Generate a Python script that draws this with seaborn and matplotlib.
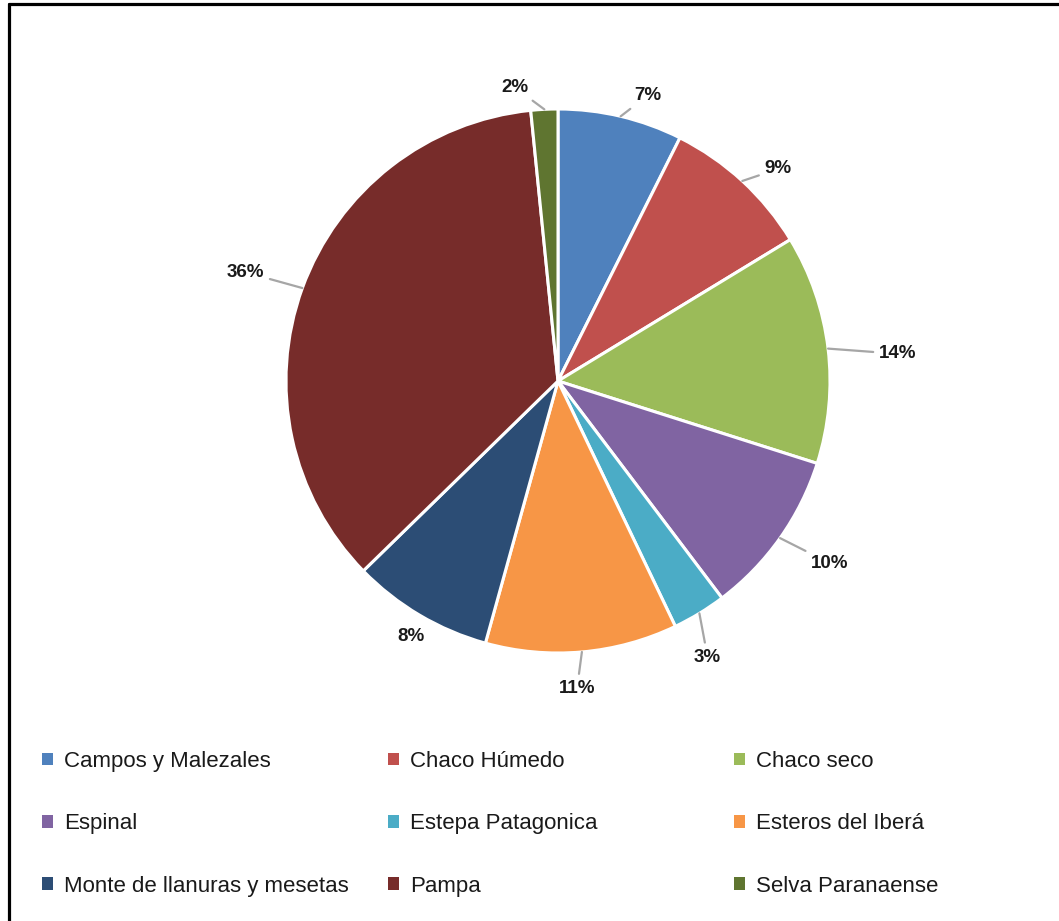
import numpy as np
import seaborn as sns
import matplotlib.pyplot as plt
from matplotlib.lines import Line2D
from matplotlib.patches import Patch

regiones = ["Campos y Malezales", "Chaco Húmedo", "Chaco seco", "Espinal",
            "Estepa Patagonica", "Esteros del Iberá", "Monte de llanuras y mesetas",
            "Pampa", "Selva Paranaense"]
porcentajes = [7.4, 8.9, 13.6, 9.8, 3.2, 11.4, 8.4, 35.7, 1.6]
colores = ["#4F81BD", "#C0504D", "#9BBB59", "#8064A2", "#4BACC6",
           "#F79646", "#2C4D75", "#772C2A", "#5F7530"]

# label placement (pie radius = 1), and whether a leader line is drawn
label_pos = [(0.33, 1.05), (0.81, 0.78), (1.25, 0.10), (1.00, -0.67), (0.55, -1.015),
             (0.07, -1.13), (-0.54, -0.94), (-1.15, 0.40), (-0.16, 1.08)]
leader = [True, True, True, True, True, True, False, True, True]

sns.set_theme(style="white")
plt.rcParams['font.family'] = ['Liberation Sans', 'DejaVu Sans']

W, H = 1059, 921
fig = plt.figure(figsize=(W / 100, H / 100), dpi=100)
fig.patch.set_facecolor("white")

# pie axes: center (558, 381) px, radius 272 px
cx, cy, r = 558, 381, 272
half = 300
ax = fig.add_axes([(cx - half) / W, (H - cy - half) / H, 2 * half / W, 2 * half / H])

palette = sns.color_palette(colores)
wedges, _ = ax.pie(porcentajes, colors=palette, startangle=90, counterclock=False,
                   radius=1, wedgeprops=dict(edgecolor="white", linewidth=2.2))
lim = half / r
ax.set_xlim(-lim, lim)
ax.set_ylim(-lim, lim)
ax.axis("off")

for w, v, pos, ln in zip(wedges, porcentajes, label_pos, leader):
    mid = np.deg2rad((w.theta1 + w.theta2) / 2)
    edge = (np.cos(mid), np.sin(mid))
    ax.annotate(f"{v:.0f}%", xy=edge, xytext=pos, ha="center", va="center",
                fontsize=13.5, fontweight="bold", color="#1a1a1a",
                arrowprops=dict(arrowstyle="-", color="#a6a6a6", lw=1.6,
                                shrinkA=2, shrinkB=0) if ln else None)

# legend: three equal-width columns, filled row by row
col_x = [42, 388, 734]
for c in range(3):
    idx = [c, c + 3, c + 6]
    handles = [Patch(facecolor=palette[i], edgecolor="none") for i in idx]
    leg = fig.legend(handles, [regiones[i] for i in idx], loc="upper left",
                     bbox_to_anchor=(col_x[c] / W, 1 - 751 / H), frameon=False,
                     fontsize=16, handlelength=0.5, handleheight=0.5,
                     handletextpad=0.5, labelspacing=1.86, borderpad=0, borderaxespad=0)
    for t in leg.get_texts():
        t.set_color("#1a1a1a")

# outer frame (top and left edges visible)
fig.add_artist(Line2D([9 / W, 1], [1 - 4 / H, 1 - 4 / H], color="black", lw=2.3,
                      transform=fig.transFigure))
fig.add_artist(Line2D([9 / W, 9 / W], [0, 1 - 4 / H], color="black", lw=2.3,
                      transform=fig.transFigure))

fig.savefig("out.png", dpi=100, facecolor="white")
